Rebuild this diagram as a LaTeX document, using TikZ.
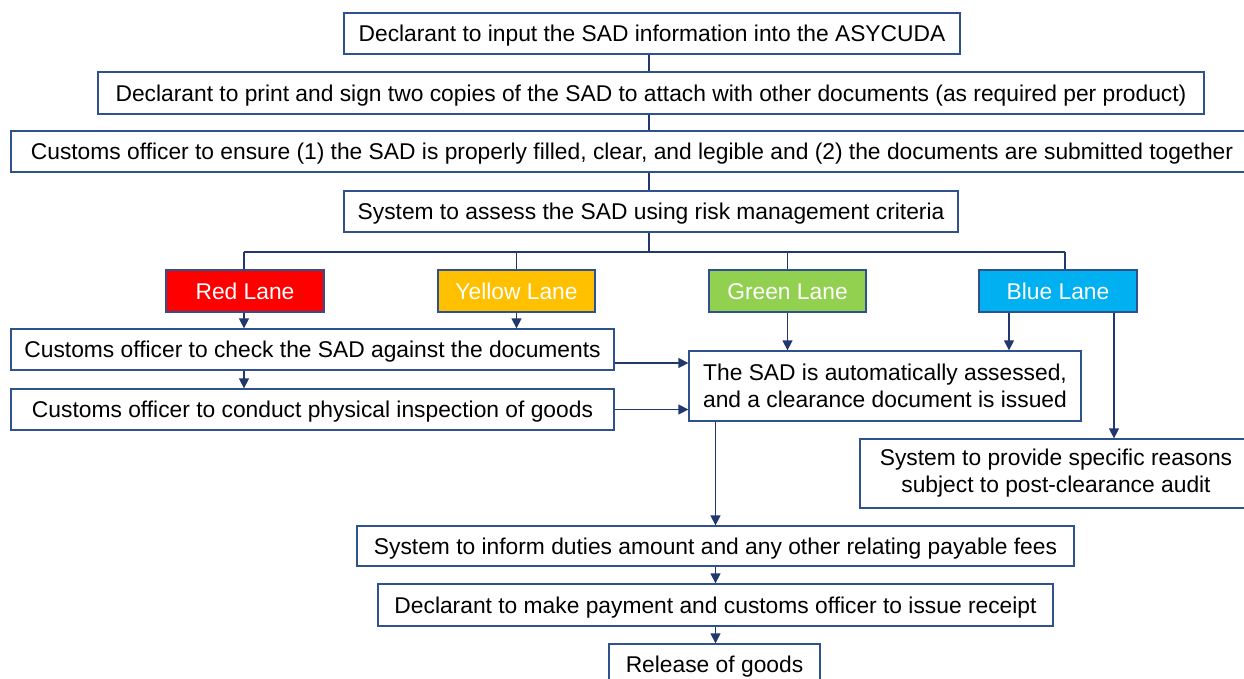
\documentclass[tikz,border=0pt]{standalone}
\usepackage{fontspec}
\setmainfont{Liberation Sans}
\usetikzlibrary{arrows.meta,calc}
\definecolor{bordercol}{RGB}{47,82,143}
\definecolor{linecol}{RGB}{32,56,110}
\definecolor{lanered}{RGB}{255,0,0}
\definecolor{laneyellow}{RGB}{255,192,0}
\definecolor{lanegreen}{RGB}{146,208,80}
\definecolor{laneblue}{RGB}{0,176,240}
\tikzset{
  box/.style={draw=bordercol, line width=1.3pt, fill=white, inner sep=0pt,
    font=\fontsize{22.8}{27}\selectfont, text=black, align=center},
  oneline/.style={box, text height=16.3pt, text depth=0pt},
  lane/.style={oneline, text=white},
  conn/.style={draw=linecol, line width=1.4pt},
  arr/.style={conn, -{Triangle[width=10pt,length=10pt]}},
}
\begin{document}
\begin{tikzpicture}[x=1pt,y=-1pt]
\useasboundingbox[fill=white] (0,0) rectangle (1244,679);
% main column
\node[oneline, minimum width=616, minimum height=41] (b1) at (652,33.5) {Declarant to input the SAD information into the ASYCUDA};
\node[oneline, minimum width=1106, minimum height=42] (b2) at (651,93) {Declarant to print and sign two copies of the SAD to attach with other documents (as required per product)};
\node[oneline, minimum width=1242, minimum height=41] (b3) at (632,151.5) {Customs officer to ensure (1) the SAD is properly filled, clear, and legible and (2) the documents are submitted together};
\node[oneline, minimum width=614, minimum height=41] (b4) at (651,211.5) {System to assess the SAD using risk management criteria};
% lanes
\node[lane, fill=lanered, minimum width=158, minimum height=42] (red) at (245,291) {Red Lane};
\node[lane, fill=laneyellow, minimum width=157, minimum height=42] (yellow) at (516.5,291) {Yellow Lane};
\node[lane, fill=lanegreen, minimum width=157, minimum height=42] (green) at (787.5,291) {Green Lane};
\node[lane, fill=laneblue, minimum width=158, minimum height=42] (blue) at (1058,291) {Blue Lane};
% lane actions
\node[oneline, minimum width=603, minimum height=41] (check) at (312.5,349.5) {Customs officer to check the SAD against the documents};
\node[oneline, minimum width=603, minimum height=41] (insp) at (312.5,409.5) {Customs officer to conduct physical inspection of goods};
\node[box, minimum width=392, minimum height=70] (sad) at (885,386) {The SAD is automatically assessed,\\and a clearance document is issued};
\node[box, minimum width=392, minimum height=69] (reasons) at (1056,473.5) {System to provide specific reasons\\subject to post-clearance audit};
% bottom
\node[oneline, minimum width=717, minimum height=40] (duties) at (715.5,546) {System to inform duties amount and any other relating payable fees};
\node[oneline, minimum width=675, minimum height=42] (payment) at (715.5,605) {Declarant to make payment and customs officer to issue receipt};
\node[oneline, minimum width=211, minimum height=41] (release) at (714.5,664.5) {Release of goods};
% connectors top
\coordinate (spine) at (649,0);
\draw[conn] (b1.south -| spine) -- (b2.north -| spine);
\draw[conn] (b2.south -| spine) -- (b3.north -| spine);
\draw[conn] (b3.south -| spine) -- (b4.north -| spine);
\coordinate (split) at (649,252);
\coordinate (barL) at (244,252);
\coordinate (barR) at (1065,252);
\draw[conn] (b4.south -| spine) -- (split);
\draw[conn] (barL) -- (barR);
\draw[conn] (barL) -- (barL |- red.north);
\draw[conn] (yellow.north |- split) -- (yellow.north);
\draw[conn] (green.north |- split) -- (green.north);
\draw[conn] (barR) -- (barR |- blue.north);
% lane arrows
\draw[arr] (barL |- red.south) -- (barL |- check.north);
\draw[arr] (yellow.south) -- (yellow.south |- check.north);
\draw[arr] (barL |- check.south) -- (barL |- insp.north);
\coordinate (chkout) at ($(check.east)+(0,13.5)$);
\draw[arr] (chkout) -- (chkout -| sad.west);
\draw[arr] (insp.east) -- (insp.east -| sad.west);
\draw[arr] (green.south) -- (green.south |- sad.north);
\coordinate (bl1) at ($(blue.south)+(-49,0)$);
\coordinate (bl2) at ($(blue.south)+(56,0)$);
\draw[arr] (bl1) -- (bl1 |- sad.north);
\draw[arr] (bl2) -- (bl2 |- reasons.north);
% bottom arrows
\draw[arr] (sad.south -| duties.north) -- (duties.north);
\draw[arr] (duties.south) -- (duties.south |- payment.north);
\draw[arr] (payment.south) -- (payment.south |- release.north);
\end{tikzpicture}
\end{document}
